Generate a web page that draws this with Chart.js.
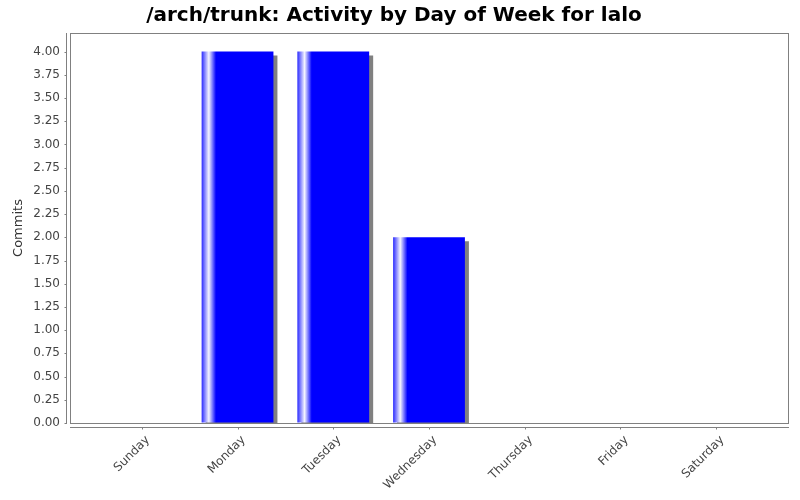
<!DOCTYPE html>
<html><head><meta charset="utf-8">
<script src="https://cdn.jsdelivr.net/npm/chart.js@4/dist/chart.umd.min.js"></script>
<style>html,body{margin:0;padding:0;background:#fff}#wrap{width:800px;height:500px}</style>
</head><body><div id="wrap"><canvas id="c" width="800" height="500"></canvas></div>
<script>
const days = ['Sunday','Monday','Tuesday','Wednesday','Thursday','Friday','Saturday'];
const commits = [0, 4, 4, 2, 0, 0, 0];
const yTickValues = [0, 0.25, 0.5, 0.75, 1, 1.25, 1.5, 1.75, 2, 2.25, 2.5, 2.75, 3, 3.25, 3.5, 3.75, 4];
const titleText = '/arch/trunk: Activity by Day of Week for lalo';
const yTitle = 'Commits';

const BAR_FRACTION = 0.75;
const FONT = "'DejaVu Sans', sans-serif";

function barGradient(ctx) {
  const chart = ctx.chart;
  const xs = chart.scales.x;
  if (!xs || ctx.dataIndex === undefined) return '#0000ff';
  const cx = xs.getPixelForValue(ctx.dataIndex);
  const step = xs.getPixelForValue(1) - xs.getPixelForValue(0);
  const w = step * BAR_FRACTION;
  const l = cx - w / 2;
  if (!isFinite(l) || !isFinite(w) || w <= 0) return '#0000ff';
  const g = chart.ctx.createLinearGradient(l, 0, l + w, 0);
  g.addColorStop(0, '#2a2aff');
  g.addColorStop(0.1, '#f4f4ff');
  g.addColorStop(0.2, '#0000ff');
  g.addColorStop(1, '#0000ff');
  return g;
}

const shadowPlugin = {
  id: 'shadowPlugin',
  beforeDatasetDraw(chart) {
    const c = chart.ctx;
    c.save();
    c.shadowColor = '#808080';
    c.shadowOffsetX = 4;
    c.shadowOffsetY = 4;
    c.shadowBlur = 0;
  },
  afterDatasetDraw(chart) { chart.ctx.restore(); }
};

const axesPlugin = {
  id: 'axesPlugin',
  afterDraw(chart) {
    const {ctx, chartArea: a, scales: {x, y}} = chart;
    ctx.save();
    ctx.strokeStyle = '#808080';
    ctx.lineWidth = 1;
    const L = Math.round(a.left), R = Math.round(a.right), T = Math.round(a.top), B = Math.round(a.bottom);
    ctx.strokeRect(L + 0.5, T + 0.5, R - L, B - T);
    ctx.beginPath();
    const yx = L - 4 + 0.5;
    ctx.moveTo(yx, T); ctx.lineTo(yx, B + 1);
    y.ticks.forEach(t => {
      const py = Math.round(y.getPixelForValue(t.value)) + 0.5;
      ctx.moveTo(yx - 2, py); ctx.lineTo(yx, py);
    });
    const xy = B + 4 + 0.5;
    ctx.moveTo(L, xy); ctx.lineTo(R + 1, xy);
    x.ticks.forEach(t => {
      const px = Math.round(x.getPixelForValue(t.value)) + 0.5;
      ctx.moveTo(px, xy); ctx.lineTo(px, xy + 2);
    });
    ctx.stroke();
    ctx.restore();
  }
};

new Chart(document.getElementById('c'), {
  type: 'bar',
  data: {
    datasets: [{
      label: yTitle,
      data: days.map((d, i) => ({x: i, y: commits[i]})),
      backgroundColor: barGradient,
      borderWidth: 0,
      categoryPercentage: BAR_FRACTION,
      barPercentage: 1
    }]
  },
  options: {
    responsive: false,
    animation: false,
    devicePixelRatio: 1,
    layout: {padding: {left: 0, right: 12, top: 0, bottom: 0}},
    plugins: {
      legend: {display: false},
      tooltip: {enabled: false},
      title: {
        display: true,
        text: titleText,
        color: '#000',
        font: {family: FONT, size: 20, weight: 'bold', lineHeight: 1.2},
        padding: {top: 4, bottom: 5}
      }
    },
    scales: {
      x: {
        type: 'linear',
        min: -0.75,
        max: 6.75,
        offset: false,
        border: {display: false},
        grid: {display: true, drawOnChartArea: false, drawTicks: true, tickLength: 6, color: 'rgba(0,0,0,0)'},
        afterBuildTicks: (s) => { s.ticks = days.map((d, i) => ({value: i})); },
        afterFit: (s) => { s.height = 77; },
        ticks: {
          autoSkip: false,
          maxRotation: 45,
          minRotation: 45,
          padding: 4,
          labelOffset: 6,
          color: '#444',
          font: {family: FONT, size: 12},
          callback: (v) => days[v]
        }
      },
      y: {
        min: 0,
        max: 4.2,
        border: {display: false},
        grid: {display: true, drawOnChartArea: false, drawTicks: true, tickLength: 6, color: 'rgba(0,0,0,0)'},
        afterBuildTicks: (s) => { s.ticks = yTickValues.map(v => ({value: v})); },
        afterFit: (s) => { s.width = 70; },
        ticks: {
          padding: 4,
          color: '#444',
          font: {family: FONT, size: 12},
          callback: (v) => Number(v).toFixed(2)
        },
        title: {
          display: true,
          text: yTitle,
          color: '#333',
          font: {family: FONT, size: 13},
          padding: {top: 11, bottom: 0}
        }
      }
    }
  },
  plugins: [shadowPlugin, axesPlugin]
});
</script>
</body></html>
